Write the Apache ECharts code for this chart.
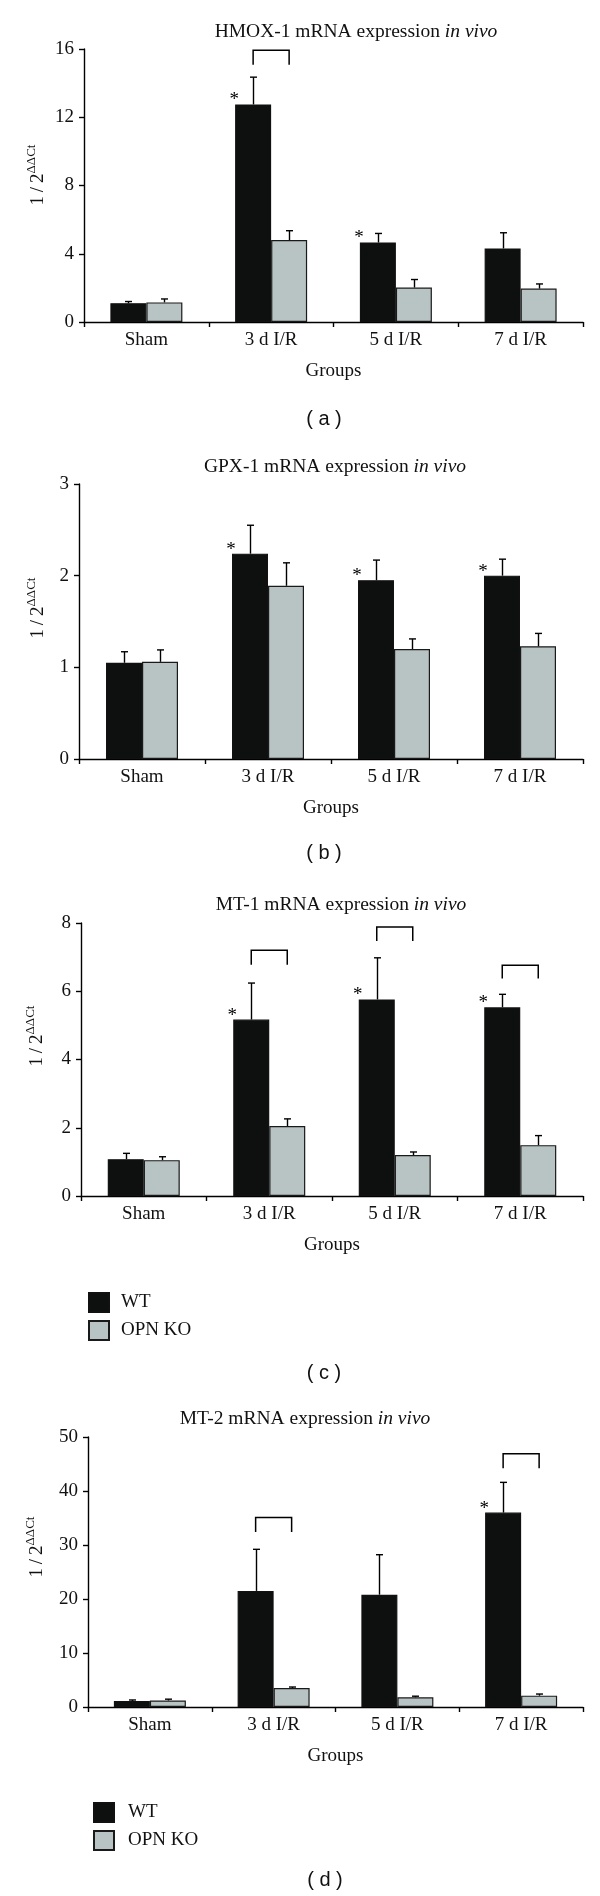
<!DOCTYPE html>
<html>
<head>
<meta charset="utf-8">
<script src="https://cdn.jsdelivr.net/npm/echarts@6/dist/echarts.min.js"></script>
<style>
  html, body { margin: 0; padding: 0; background: #fff; }
  #chart { width: 600px; height: 1896px; }
</style>
</head>
<body>
<div id="chart"></div>
<script>
// ---------------- DATA ----------------
const groups = ['Sham', '3 d I/R', '5 d I/R', '7 d I/R'];
const seriesNames = ['WT', 'OPN KO'];

// (a) HMOX-1
const hmoxWT = [1.1, 12.75, 4.66, 4.31];
const hmoxWTsd = [0.1, 1.6, 0.53, 0.92];
const hmoxKO = [1.15, 4.8, 2.02, 1.96];
const hmoxKOsd = [0.2, 0.55, 0.47, 0.27];
const hmoxStars = [1, 2];
const hmoxBrackets = [[1, 15.92, 15.08]];

// (b) GPX-1
const gpxWT = [1.05, 2.24, 1.95, 2.0];
const gpxWTsd = [0.12, 0.31, 0.22, 0.18];
const gpxKO = [1.06, 1.89, 1.2, 1.23];
const gpxKOsd = [0.13, 0.25, 0.11, 0.14];
const gpxStars = [1, 2, 3];
const gpxBrackets = [];

// (c) MT-1
const mt1WT = [1.08, 5.17, 5.76, 5.53];
const mt1WTsd = [0.17, 1.07, 1.22, 0.38];
const mt1KO = [1.05, 2.05, 1.2, 1.49];
const mt1KOsd = [0.1, 0.21, 0.09, 0.28];
const mt1Stars = [1, 2, 3];
const mt1Brackets = [[1, 7.2, 6.78], [2, 7.88, 7.47], [3, 6.76, 6.37]];

// (d) MT-2
const mt2WT = [1.1, 21.5, 20.8, 36.0];
const mt2WTsd = [0.2, 7.7, 7.4, 5.6];
const mt2KO = [1.2, 3.5, 1.8, 2.1];
const mt2KOsd = [0.25, 0.2, 0.2, 0.3];
const mt2Stars = [3];
const mt2Brackets = [[1, 35.1, 32.4], [3, 46.9, 44.2]];

const yMax = [16, 3, 8, 50];
const yInterval = [4, 1, 2, 10];
const titles = ['HMOX-1', 'GPX-1', 'MT-1', 'MT-2'];
const panelLabels = ['( a )', '( b )', '( c )', '( d )'];

// ---------------- STYLE / LAYOUT ----------------
const SERIF = '"Liberation Serif", "Times New Roman", serif';
const SANS = '"Liberation Sans", Arial, sans-serif';
const BAR_W = 36;
const WT_COLOR = '#0e1010';
const KO_COLOR = '#b8c4c4';

const grids = [
  { left: 84, top: 49, width: 499, height: 273 },
  { left: 79, top: 484, width: 504, height: 275 },
  { left: 81, top: 923, width: 502, height: 273 },
  { left: 88, top: 1437, width: 495, height: 270 }
];
const titlePos = [[356, 32], [335, 467], [341, 905], [305, 1419]];
const labelPos = [[324, 419], [324, 853], [324, 1373], [325, 1880]];
const yNamePos = [[38, 175], [38, 608], [37, 1036], [37, 1547]];

const panels = [
  { wt: hmoxWT, wtsd: hmoxWTsd, ko: hmoxKO, kosd: hmoxKOsd, stars: hmoxStars, brackets: hmoxBrackets },
  { wt: gpxWT, wtsd: gpxWTsd, ko: gpxKO, kosd: gpxKOsd, stars: gpxStars, brackets: gpxBrackets },
  { wt: mt1WT, wtsd: mt1WTsd, ko: mt1KO, kosd: mt1KOsd, stars: mt1Stars, brackets: mt1Brackets },
  { wt: mt2WT, wtsd: mt2WTsd, ko: mt2KO, kosd: mt2KOsd, stars: mt2Stars, brackets: mt2Brackets }
];

const xAxes = [], yAxes = [], series = [], graphics = [];

function errSeries(gi, means, sds, dx) {
  return {
    type: 'custom', xAxisIndex: gi, yAxisIndex: gi, z: 5, silent: true,
    data: means.map((m, i) => [i, m, m + sds[i]]),
    renderItem: function (params, api) {
      const p0 = api.coord([api.value(0), api.value(1)]);
      const p1 = api.coord([api.value(0), api.value(2)]);
      const x = Math.round(p0[0] + dx) + 0.5;
      return {
        type: 'group', children: [
          { type: 'line', shape: { x1: x, y1: p0[1], x2: x, y2: p1[1] }, style: { stroke: '#000', lineWidth: 1.4 } },
          { type: 'line', shape: { x1: x - 3.5, y1: p1[1], x2: x + 3.5, y2: p1[1] }, style: { stroke: '#000', lineWidth: 1.4 } }
        ]
      };
    }
  };
}

panels.forEach((p, gi) => {
  xAxes.push({
    type: 'category', gridIndex: gi, data: groups,
    axisLine: { show: true, lineStyle: { color: '#000', width: 1.4 } },
    axisTick: { show: true, inside: false, length: 5, alignWithLabel: false, lineStyle: { color: '#000', width: 1.4 } },
    axisLabel: { color: '#111', fontFamily: SERIF, fontSize: 19, margin: 9 },
    splitLine: { show: false },
    name: 'Groups', nameLocation: 'middle', nameGap: 40,
    nameTextStyle: { color: '#111', fontFamily: SERIF, fontSize: 19 }
  });
  yAxes.push({
    type: 'value', gridIndex: gi, min: 0, max: yMax[gi], interval: yInterval[gi],
    axisLine: { show: true, lineStyle: { color: '#000', width: 1.4 } },
    axisTick: { show: true, inside: false, length: 5, lineStyle: { color: '#000', width: 1.4 } },
    axisLabel: { color: '#111', fontFamily: SERIF, fontSize: 19, margin: 10 },
    splitLine: { show: false }
  });
  series.push({
    name: seriesNames[0], type: 'bar', xAxisIndex: gi, yAxisIndex: gi,
    data: p.wt, barWidth: BAR_W, barGap: '0%',
    itemStyle: { color: WT_COLOR, borderColor: '#111', borderWidth: 1.2 },
    silent: true
  });
  series.push({
    name: seriesNames[1], type: 'bar', xAxisIndex: gi, yAxisIndex: gi,
    data: p.ko, barWidth: BAR_W, barGap: '0%',
    itemStyle: { color: KO_COLOR, borderColor: '#1a1a1a', borderWidth: 1.2 },
    silent: true
  });
  series.push(errSeries(gi, p.wt, p.wtsd, -BAR_W / 2));
  series.push(errSeries(gi, p.ko, p.kosd, BAR_W / 2));
  // significance brackets between WT and KO
  if (p.brackets.length) {
    series.push({
      type: 'custom', xAxisIndex: gi, yAxisIndex: gi, z: 5, silent: true,
      data: p.brackets,
      renderItem: function (params, api) {
        const pt = api.coord([api.value(0), api.value(1)]);
        const pb = api.coord([api.value(0), api.value(2)]);
        const x1 = pt[0] - BAR_W / 2, x2 = pt[0] + BAR_W / 2;
        return {
          type: 'polyline',
          shape: { points: [[x1, pb[1]], [x1, pt[1]], [x2, pt[1]], [x2, pb[1]]] },
          style: { stroke: '#000', lineWidth: 1.5, fill: null }
        };
      }
    });
  }
  // asterisks above WT bars
  series.push({
    type: 'custom', xAxisIndex: gi, yAxisIndex: gi, z: 6, silent: true,
    data: p.stars.map(i => [i, p.wt[i]]),
    renderItem: function (params, api) {
      const pt = api.coord([api.value(0), api.value(1)]);
      return {
        type: 'text', x: pt[0] - 37, y: pt[1] - 4,
        style: { text: '*', fontSize: 19, fontFamily: SERIF, fill: '#000', align: 'center', verticalAlign: 'middle' }
      };
    }
  });

  graphics.push({
    type: 'text', x: titlePos[gi][0], y: titlePos[gi][1], silent: true,
    style: {
      text: '{n|' + titles[gi] + ' mRNA expression }{i|in vivo}',
      align: 'center', verticalAlign: 'middle',
      rich: {
        n: { fontFamily: SERIF, fontSize: 19.5, fill: '#111' },
        i: { fontFamily: SERIF, fontSize: 19.5, fontStyle: 'italic', fill: '#111' }
      }
    }
  });
  graphics.push({
    type: 'text', x: labelPos[gi][0], y: labelPos[gi][1], silent: true,
    style: { text: panelLabels[gi], fontFamily: SANS, fontSize: 20, fill: '#111', align: 'center', verticalAlign: 'middle' }
  });
  graphics.push({
    type: 'text', x: yNamePos[gi][0], y: yNamePos[gi][1], rotation: Math.PI / 2, silent: true,
    style: {
      text: '{a|1\u2009/\u20092}{b|ΔΔCt}',
      align: 'center', verticalAlign: 'middle',
      rich: {
        a: { fontFamily: SERIF, fontSize: 19, fill: '#111', lineHeight: 26 },
        b: { fontFamily: SERIF, fontSize: 13, fill: '#111', verticalAlign: 'top', lineHeight: 15 }
      }
    }
  });
});

const legendBase = {
  data: seriesNames, orient: 'vertical', icon: 'rect',
  itemWidth: 20, itemHeight: 19, itemGap: 7, selectedMode: false
};

const option = {
  animation: false,
  backgroundColor: '#fff',
  grid: grids.map(g => Object.assign({ containLabel: false, outerBoundsMode: 'none' }, g)),
  xAxis: xAxes,
  yAxis: yAxes,
  series: series,
  legend: [
    Object.assign({}, legendBase, { left: 83, top: 1287, textStyle: { fontFamily: SERIF, fontSize: 19, color: '#111', padding: [0, 0, 0, 7] } }),
    Object.assign({}, legendBase, { left: 88, top: 1797, textStyle: { fontFamily: SERIF, fontSize: 19, color: '#111', padding: [0, 0, 0, 9] } })
  ],
  graphic: graphics
};

const chart = echarts.init(document.getElementById('chart'), null, { renderer: 'canvas' });
chart.setOption(option);
</script>
</body>
</html>
